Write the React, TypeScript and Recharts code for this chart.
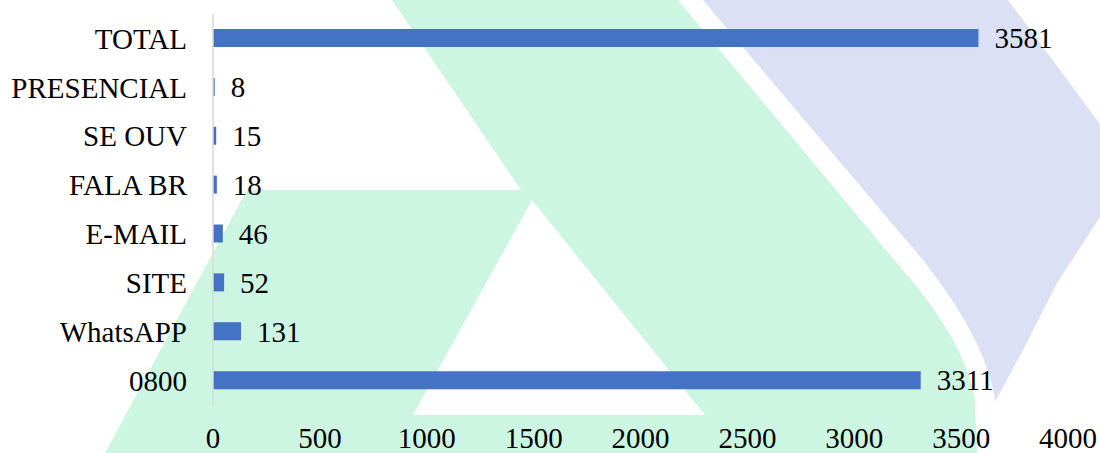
import { BarChart, Bar, XAxis, YAxis, LabelList } from "recharts";

const categories = ["TOTAL", "PRESENCIAL", "SE OUV", "FALA BR", "E-MAIL", "SITE", "WhatsAPP", "0800"];
const values = [3581, 8, 15, 18, 46, 52, 131, 3311];
const xTicks = [0, 500, 1000, 1500, 2000, 2500, 3000, 3500, 4000];

const COLORS = {
  bar: "#4472C4",
  ink: "#000000",
  axis: "#d9d9d9",
  mint: "#ccf6e2",
  lavender: "#dce0f5",
};

const FONT = "'Liberation Serif', 'Times New Roman', serif";
const FS = 29;

const data = categories.map((name, i) => ({ name, value: values[i] }));

// decorative logo shapes behind the chart
function Backdrop() {
  return (
    <svg width={1100} height={453} style={{ position: "absolute", left: 0, top: 0 }}>
      <path
        d="M703,0 L1008,0 L1097,120 Q1130,170 1100,217 L1057,283 L1023,350 L995,402 C993,370 965,305 900,233 Z"
        fill={COLORS.lavender}
      />
      <path
        d="M392,0 L678,0 L900,267 Q965,340 975,400 L977,453 L105,453 L247,190 L521,190 Z"
        fill={COLORS.mint}
      />
      <path d="M532,200 L705,415 L413,415 Z" fill="#ffffff" />
    </svg>
  );
}

export default function App() {
  return (
    <div style={{ position: "absolute", left: 0, top: 0, width: 1100, height: 453, background: "#fff" }}>
      <Backdrop />
      <div style={{ position: "absolute", left: 0, top: 0 }}>
        <BarChart
          width={1100}
          height={453}
          data={data}
          layout="vertical"
          margin={{ top: 14, right: 32, bottom: 0, left: 0 }}
        >
          <XAxis
            type="number"
            domain={[0, 4000]}
            ticks={xTicks}
            interval={0}
            axisLine={false}
            tickLine={false}
            tickSize={0}
            tickMargin={22}
            height={48}
            tick={{ fill: COLORS.ink, fontSize: FS, fontFamily: FONT }}
          />
          <YAxis
            type="category"
            dataKey="name"
            width={213}
            axisLine={{ stroke: COLORS.axis, strokeWidth: 1.5 }}
            tickLine={false}
            tickSize={0}
            tickMargin={26}
            interval={0}
            tick={{ fill: COLORS.ink, fontSize: FS, fontFamily: FONT }}
          />
          <Bar dataKey="value" fill={COLORS.bar} barSize={18} isAnimationActive={false}>
            <LabelList
              dataKey="value"
              position="right"
              offset={16}
              fill={COLORS.ink}
              fontSize={FS}
              fontFamily={FONT}
            />
          </Bar>
        </BarChart>
      </div>
    </div>
  );
}
